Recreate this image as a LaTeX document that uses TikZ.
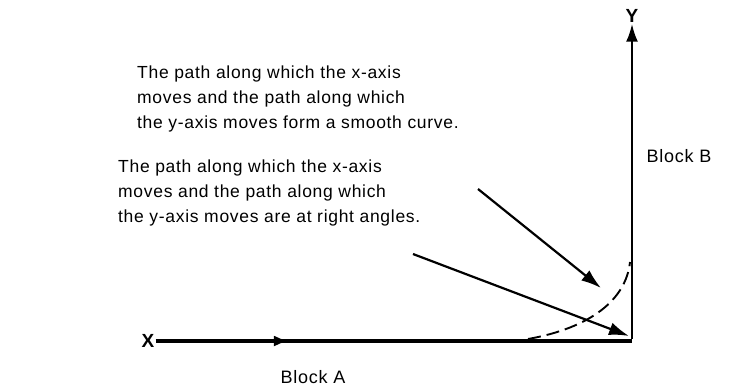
\documentclass[tikz,border=0pt]{standalone}
\usepackage{fontspec}
\setmainfont{Liberation Sans}
\newfontfamily\notefont[LetterSpace=4]{Liberation Sans}
\usetikzlibrary{arrows.meta,decorations.markings}

\tikzset{
  note/.style={align=left, anchor=west, inner sep=0pt, font=\notefont\fontsize{17.5}{25}\selectfont},
  blocklabel/.style={inner sep=1pt, font=\notefont\fontsize{18}{20}\selectfont},
  axislabel/.style={inner sep=1pt, font=\fontsize{19}{21}\selectfont\bfseries},
  pointer/.style={line width=2.2pt, -{Latex[length=20pt,width=13pt]}}
}

\begin{document}
\begin{tikzpicture}[x=1pt, y=-1pt]
            \useasboundingbox (0,0) rectangle (742,389);

            % Axis labels
            \node[axislabel] (xlab) at (148,341) {X};
            \node[axislabel] (ylab) at (632,16) {Y};
            \coordinate (corner) at (632,341);

            % Block labels
            \node[blocklabel] (blocka) at (313,377) {Block A};
            \node[blocklabel] (blockb) at (679,156) {Block B};

            % Explanations
            \node[note] (smooth) at (137,99) {The path along which the x-axis\\moves and the path along which\\the y-axis moves form a smooth curve.};
            \node[note] (right) at (118,193) {The path along which the x-axis\\moves and the path along which\\the y-axis moves are at right angles.};

            % X axis with arrow in the middle
            \draw[line width=4pt,
                  decoration={markings, mark=at position 0.28 with {\arrow{Latex[length=15pt,width=11pt]}}},
                  postaction={decorate}] (xlab.east) -- (corner);

            % Y axis
            \draw[line width=2.4pt, -{Latex[length=18pt,width=12pt]}] ([yshift=2pt]corner) -- (ylab.south);

            % Smooth path (dashed)
            \draw[line width=1.9pt, dash pattern=on 13pt off 6pt] (528,339) .. controls (590,328) and (626,300) .. (630,262);

            % Pointers
            \coordinate (p1) at (478,189);
            \coordinate (t1) at (601,288);
            \coordinate (p2) at (413,254);
            \coordinate (t2) at (629,336);
            \draw[pointer] (p1) -- (t1);
            \draw[pointer] (p2) -- (t2);
        \end{tikzpicture}
\end{document}
